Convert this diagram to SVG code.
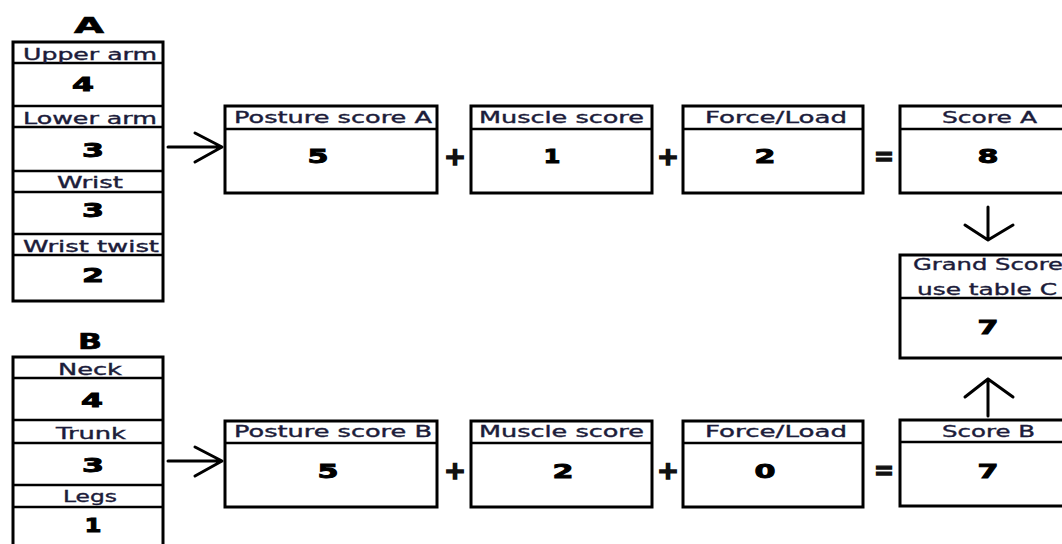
<svg xmlns="http://www.w3.org/2000/svg" width="1062" height="544" viewBox="0 0 1062 544">
<style>
.box{fill:#fff;stroke:#000;stroke-width:3}
.ln{stroke:#000;stroke-width:2.5;fill:none}
.hd{font-family:"DejaVu Sans",Verdana,sans-serif;font-size:15px;fill:#1c1c3a;stroke:#1c1c3a;stroke-width:0.35;text-anchor:start}
.v{font-family:"DejaVu Sans",sans-serif;font-weight:bold;font-size:19px;fill:#000;stroke:#000;stroke-width:0.9;text-anchor:middle}
.t{font-family:"DejaVu Sans",sans-serif;font-weight:bold;font-size:21px;fill:#000;stroke:#000;stroke-width:0.6;text-anchor:middle}
.op{font-family:"DejaVu Sans",sans-serif;font-weight:bold;font-size:24px;fill:#111;stroke:#111;stroke-width:1.4;text-anchor:middle}
.ar{stroke:#000;stroke-width:3;fill:none;stroke-linecap:round;stroke-linejoin:round}
</style>
<rect width="1062" height="544" fill="#fff"/>

<g id="tableA">
<text class="t" x="89" y="33" textLength="30" lengthAdjust="spacingAndGlyphs">A</text>
<rect class="box" x="13" y="42" width="150" height="259"/>
<line class="ln" x1="13" y1="63" x2="163" y2="63"/>
<line class="ln" x1="13" y1="106" x2="163" y2="106"/>
<line class="ln" x1="13" y1="127" x2="163" y2="127"/>
<line class="ln" x1="13" y1="171" x2="163" y2="171"/>
<line class="ln" x1="13" y1="192" x2="163" y2="192"/>
<line class="ln" x1="13" y1="234" x2="163" y2="234"/>
<line class="ln" x1="13" y1="255" x2="163" y2="255"/>
<text class="hd" x="23" y="60" textLength="134" lengthAdjust="spacingAndGlyphs">Upper arm</text>
<text class="v" x="83" y="91" textLength="22" lengthAdjust="spacingAndGlyphs">4</text>
<text class="hd" x="23" y="124" textLength="134" lengthAdjust="spacingAndGlyphs">Lower arm</text>
<text class="v" x="93" y="157" textLength="22" lengthAdjust="spacingAndGlyphs">3</text>
<text class="hd" x="57" y="188" textLength="66" lengthAdjust="spacingAndGlyphs">Wrist</text>
<text class="v" x="93" y="217" textLength="22" lengthAdjust="spacingAndGlyphs">3</text>
<text class="hd" x="23" y="252" textLength="136" lengthAdjust="spacingAndGlyphs">Wrist twist</text>
<text class="v" x="93" y="282" textLength="22" lengthAdjust="spacingAndGlyphs">2</text>
</g>

<g id="tableB">
<text class="t" x="90" y="349" textLength="24" lengthAdjust="spacingAndGlyphs">B</text>
<rect class="box" x="13" y="357" width="150" height="200"/>
<line class="ln" x1="13" y1="378" x2="163" y2="378"/>
<line class="ln" x1="13" y1="420" x2="163" y2="420"/>
<line class="ln" x1="13" y1="443" x2="163" y2="443"/>
<line class="ln" x1="13" y1="485" x2="163" y2="485"/>
<line class="ln" x1="13" y1="507" x2="163" y2="507"/>
<text class="hd" x="58" y="375" textLength="64" lengthAdjust="spacingAndGlyphs">Neck</text>
<text class="v" x="92" y="407" textLength="22" lengthAdjust="spacingAndGlyphs">4</text>
<text class="hd" x="56" y="439" textLength="70" lengthAdjust="spacingAndGlyphs">Trunk</text>
<text class="v" x="93" y="472" textLength="22" lengthAdjust="spacingAndGlyphs">3</text>
<text class="hd" x="63" y="502" textLength="54" lengthAdjust="spacingAndGlyphs">Legs</text>
<text class="v" x="93" y="532" textLength="17" lengthAdjust="spacingAndGlyphs">1</text>
</g>

<g id="postureA">
<rect class="box" x="225" y="106" width="212" height="87"/>
<line class="ln" x1="225" y1="129" x2="437" y2="129"/>
<text class="hd" x="234" y="123" textLength="198" lengthAdjust="spacingAndGlyphs">Posture score A</text>
<text class="v" x="318" y="163" textLength="21" lengthAdjust="spacingAndGlyphs">5</text>
</g>
<g id="muscleA">
<rect class="box" x="471" y="106" width="181" height="87"/>
<line class="ln" x1="471" y1="129" x2="652" y2="129"/>
<text class="hd" x="479" y="123" textLength="165" lengthAdjust="spacingAndGlyphs">Muscle score</text>
<text class="v" x="552" y="163" textLength="17" lengthAdjust="spacingAndGlyphs">1</text>
</g>
<g id="forceA">
<rect class="box" x="683" y="106" width="180" height="87"/>
<line class="ln" x1="683" y1="129" x2="863" y2="129"/>
<text class="hd" x="705" y="123" textLength="142" lengthAdjust="spacingAndGlyphs">Force/Load</text>
<text class="v" x="765" y="163" textLength="21" lengthAdjust="spacingAndGlyphs">2</text>
</g>
<g id="scoreA">
<rect class="box" x="900" y="106" width="180" height="87"/>
<line class="ln" x1="900" y1="129" x2="1080" y2="129"/>
<text class="hd" x="942" y="123" textLength="95" lengthAdjust="spacingAndGlyphs">Score A</text>
<text class="v" x="988" y="163" textLength="21" lengthAdjust="spacingAndGlyphs">8</text>
</g>
<g id="grand">
<rect class="box" x="900" y="255" width="180" height="103"/>
<line class="ln" x1="900" y1="298" x2="1080" y2="298"/>
<text class="hd" x="913" y="270" textLength="150" lengthAdjust="spacingAndGlyphs">Grand Score</text>
<text class="hd" x="917" y="295" textLength="140" lengthAdjust="spacingAndGlyphs">use table C</text>
<text class="v" x="988" y="334" textLength="21" lengthAdjust="spacingAndGlyphs">7</text>
</g>

<g id="postureB">
<rect class="box" x="225" y="421" width="212" height="86"/>
<line class="ln" x1="225" y1="443" x2="437" y2="443"/>
<text class="hd" x="234" y="437" textLength="198" lengthAdjust="spacingAndGlyphs">Posture score B</text>
<text class="v" x="328" y="478" textLength="21" lengthAdjust="spacingAndGlyphs">5</text>
</g>
<g id="muscleB">
<rect class="box" x="471" y="421" width="181" height="86"/>
<line class="ln" x1="471" y1="443" x2="652" y2="443"/>
<text class="hd" x="479" y="437" textLength="165" lengthAdjust="spacingAndGlyphs">Muscle score</text>
<text class="v" x="563" y="478" textLength="21" lengthAdjust="spacingAndGlyphs">2</text>
</g>
<g id="forceB">
<rect class="box" x="683" y="421" width="180" height="86"/>
<line class="ln" x1="683" y1="443" x2="863" y2="443"/>
<text class="hd" x="705" y="437" textLength="142" lengthAdjust="spacingAndGlyphs">Force/Load</text>
<text class="v" x="765" y="478" textLength="21" lengthAdjust="spacingAndGlyphs">0</text>
</g>
<g id="scoreB">
<rect class="box" x="900" y="420" width="180" height="86"/>
<line class="ln" x1="900" y1="442" x2="1080" y2="442"/>
<text class="hd" x="942" y="437" textLength="93" lengthAdjust="spacingAndGlyphs">Score B</text>
<text class="v" x="988" y="478" textLength="21" lengthAdjust="spacingAndGlyphs">7</text>
</g>

<g id="operators">
<text class="op" x="455" y="165" textLength="22" lengthAdjust="spacingAndGlyphs">+</text>
<text class="op" x="668" y="165" textLength="22" lengthAdjust="spacingAndGlyphs">+</text>
<text class="op" x="884" y="165" textLength="20" lengthAdjust="spacingAndGlyphs">=</text>
<text class="op" x="455" y="479" textLength="22" lengthAdjust="spacingAndGlyphs">+</text>
<text class="op" x="668" y="479" textLength="22" lengthAdjust="spacingAndGlyphs">+</text>
<text class="op" x="884" y="479" textLength="20" lengthAdjust="spacingAndGlyphs">=</text>
</g>

<g id="connectors">
<path class="ar" d="M168 147 H222 M195 133 L222 147 L195 162"/>
<path class="ar" d="M168 461 H222 M195 447 L222 461 L195 476"/>
<path class="ar" d="M988 207 V240 M965 225 L988 240 L1013 225"/>
<path class="ar" d="M988 416 V379 M965 397 L988 379 L1013 397"/>
</g>
</svg>
